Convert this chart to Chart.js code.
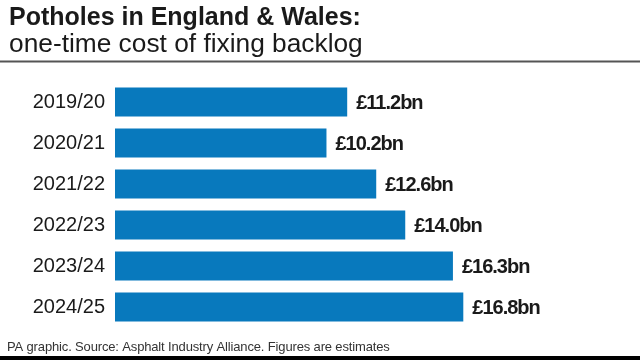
<!DOCTYPE html>
<html>
<head>
<meta charset="utf-8">
<script src="https://cdn.jsdelivr.net/npm/chart.js@4"></script>
<style>
  html, body { margin: 0; padding: 0; background: #fff; }
  canvas { display: block; }
</style>
</head>
<body>
<canvas id="mycanvas" width="640" height="360"></canvas>
<script>
var years = ["2019/20", "2020/21", "2021/22", "2022/23", "2023/24", "2024/25"];
var cost = [11.2, 10.2, 12.6, 14.0, 16.3, 16.8];
var costLabels = ["£11.2bn", "£10.2bn", "£12.6bn", "£14.0bn", "£16.3bn", "£16.8bn"];

var title = "Potholes in England & Wales:";
var subtitle = "one-time cost of fixing backlog";
var footer = "PA graphic. Source: Asphalt Industry Alliance. Figures are estimates";

// header, rules and footer
var frame = {
	id: "frame",
	beforeDraw: function(chart) {
		var ctx = chart.ctx;
		ctx.save();
		ctx.fillStyle = "#fff";
		ctx.fillRect(0, 0, chart.width, chart.height);
		ctx.fillStyle = "#1a1a1a";
		ctx.textAlign = "left";
		ctx.textBaseline = "alphabetic";
		ctx.font = "bold 25px 'Liberation Sans', Arial, sans-serif";
		ctx.letterSpacing = "0px";
		ctx.fillText(title, 9, 25);
		ctx.font = "26.3px 'Liberation Sans', Arial, sans-serif";
		ctx.fillText(subtitle, 9, 52);
		ctx.fillStyle = "#555";
		ctx.fillRect(0, 60.5, chart.width, 2);
		ctx.fillStyle = "#333";
		ctx.font = "13px 'Liberation Sans', Arial, sans-serif";
		ctx.letterSpacing = "-0.15px";
		ctx.fillText(footer, 7, 351);
		ctx.fillStyle = "#000";
		ctx.fillRect(0, 356, chart.width, 4);
		ctx.restore();
	}
};

// value labels at bar ends
var valueLabels = {
	id: "valueLabels",
	afterDatasetsDraw: function(chart) {
		var ctx = chart.ctx;
		var bars = chart.getDatasetMeta(0).data;
		ctx.save();
		ctx.fillStyle = "#1a1a1a";
		ctx.font = "bold 20px 'Liberation Sans', Arial, sans-serif";
		ctx.letterSpacing = "-1px";
		ctx.textAlign = "left";
		ctx.textBaseline = "middle";
		for (var i in bars) {
			ctx.fillText(costLabels[i], bars[i].x + 9, bars[i].y + 1);
		}
		ctx.restore();
	}
};

var chartdata = {
	labels: years,
	datasets: [
		{
			label: "Cost",
			backgroundColor: "#0879bd",
			borderWidth: 0,
			barPercentage: 0.71,
			categoryPercentage: 1.0,
			data: cost
		}
	]
};

var ctx = document.getElementById("mycanvas");

var BarGraph = new Chart(ctx, {
	type: "bar",
	data: chartdata,
	plugins: [frame, valueLabels],
	options: {
		indexAxis: "y",
		responsive: false,
		animation: false,
		layout: {
			padding: { top: 81.5, bottom: 32.5, left: 0, right: 6.7 }
		},
		plugins: {
			legend: { display: false },
			title: { display: false },
			tooltip: { enabled: false }
		},
		scales: {
			x: {
				display: false,
				min: 0,
				max: 25
			},
			y: {
				afterFit: function(scale) { scale.width = 115; },
				grid: { display: false, drawTicks: false },
				border: { display: false },
				ticks: {
					padding: 10,
					color: "#1a1a1a",
					font: { family: "'Liberation Sans', Arial, sans-serif", size: 20 }
				}
			}
		}
	}
});
</script>
</body>
</html>
